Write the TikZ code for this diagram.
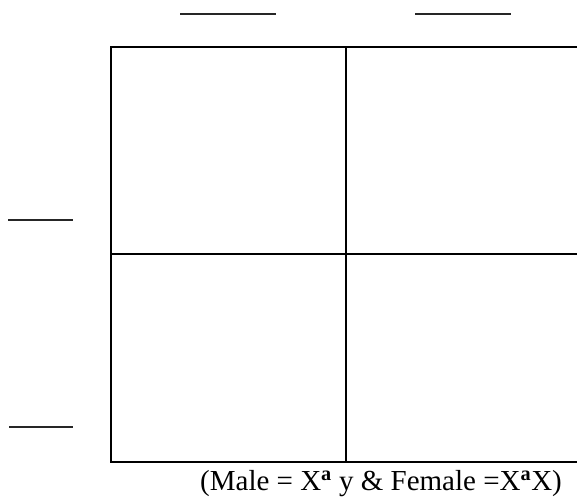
\documentclass[tikz,border=0pt]{standalone}
\usepackage{fontspec}
\setmainfont{Liberation Serif}
\begin{document}
\begin{tikzpicture}[x=1pt,y=-1pt,
  grid/.style={line width=1.8pt,black},
  blank/.style={line width=1.3pt,black!85}]
\useasboundingbox (0,0) rectangle (577,501);
\begin{scope}
\clip (0,0) rectangle (577,501);
% Punnett square
\draw[grid] (111,47) -- (580,47);
\draw[grid] (111,254) -- (580,254);
\draw[grid] (111,462) -- (580,462);
\draw[grid] (111,46) -- (111,463);
\draw[grid] (346,46) -- (346,463);
\end{scope}
% blanks for gametes
\draw[blank] (180,14) -- (276,14);
\draw[blank] (415,14) -- (511,14);
\draw[blank] (8,220) -- (73,220);
\draw[blank] (9,427) -- (73,427);
% caption
\node[anchor=base west, inner sep=0pt, font=\fontsize{29}{32}\selectfont] (cap) at (200,490)
  {(Male = X\textsuperscript{\textbf{a}} y \& Female =X\textsuperscript{\textbf{a}}X)};
\end{tikzpicture}
\end{document}
